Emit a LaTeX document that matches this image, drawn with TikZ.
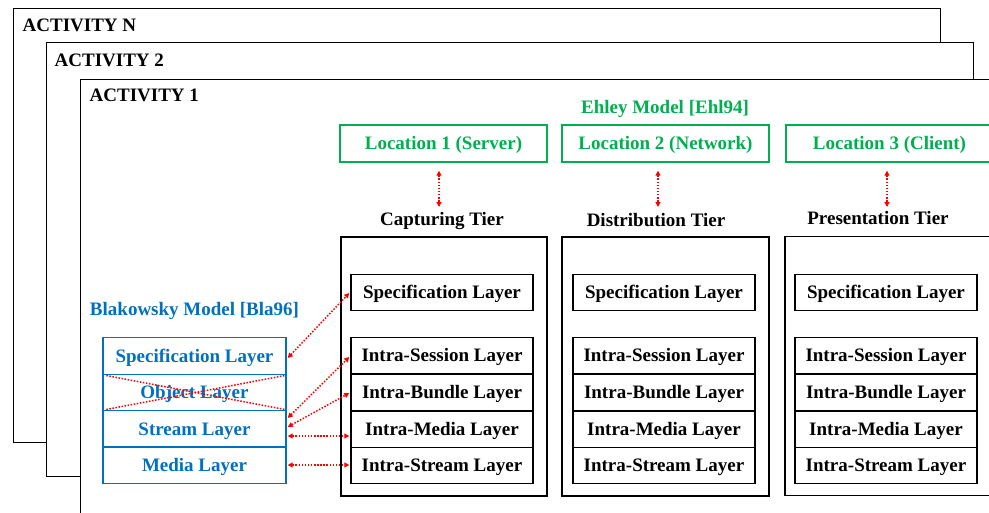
\documentclass[tikz,border=0pt]{standalone}
\usepackage{fontspec}
\setmainfont{Liberation Serif}
\usetikzlibrary{arrows.meta}
\definecolor{egreen}{RGB}{0,176,80}
\definecolor{bblue}{RGB}{0,112,192}
\definecolor{rred}{RGB}{255,0,0}
\begin{document}
\begin{tikzpicture}[x=1pt,y=-1pt,
  every node/.style={font=\fontsize{19}{21}\selectfont\bfseries, inner sep=0pt},
  actbox/.style={draw, line width=1.4pt, fill=white, anchor=north west},
  actlabel/.style={anchor=base west},
  lay/.style={draw, line width=1.4pt, minimum width=182pt, minimum height=36.5pt, text height=12.5pt, text depth=0pt},
  blay/.style={lay, draw=bblue, text=bblue, minimum width=183pt},
  tierbox/.style={draw, line width=1.4pt, minimum height=259pt},
  locbox/.style={draw=egreen, text=egreen, line width=1.4pt, minimum width=207pt, minimum height=37pt, text height=12.5pt, text depth=0pt},
  tierlabel/.style={anchor=base},
  redarr/.style={draw=rred, line width=1.5pt, dash pattern=on 1.5pt off 1.6pt, {Triangle[length=5pt,width=5pt,fill=rred]}-{Triangle[length=5pt,width=5pt,fill=rred]}},
  cross/.style={draw=rred, line width=1.5pt, dash pattern=on 1.5pt off 1.6pt}
]
\useasboundingbox (0,0) rectangle (989,512);
\clip (0,0) rectangle (989,512);
\fill[white] (0,0) rectangle (989,512);

% activity frames
\node[actbox, minimum width=927pt, minimum height=434pt] (actN) at (13,7.5) {};
\node[actlabel] (labN) at (22.5,31.5) {ACTIVITY N};
\node[actbox, minimum width=927pt, minimum height=434pt] (act2) at (46,41.5) {};
\node[actlabel] (lab2) at (54.5,66.5) {ACTIVITY 2};
\node[actbox, minimum width=940pt, minimum height=460pt] (act1) at (80,79) {};
\node[actlabel] (lab1) at (89.5,101.5) {ACTIVITY 1};

% Ehley model
\node[anchor=base, text=egreen] (ehley) at (665,113) {Ehley Model [Ehl94]};
\node[locbox] (loc1) at (443.5,143.5) {Location 1 (Server)};
\node[locbox] (loc2) at (665.5,143.5) {Location 2 (Network)};
\node[locbox] (loc3) at (889.5,143.5) {Location 3 (Client)};

% tier labels
\node[tierlabel] (t1) at (442,225) {Capturing Tier};
\node[tierlabel] (t2) at (656,226) {Distribution Tier};
\node[tierlabel] (t3) at (878,224) {Presentation Tier};

% tier boxes
\node[tierbox, minimum width=206pt] (tb1) at (444,366.5) {};
\node[tierbox, minimum width=207pt] (tb2) at (665.5,366.5) {};
\node[tierbox, minimum width=210pt] (tb3) at (890,366) {};

% layers
\foreach \n/\x in {c/442, d/664, p/886} {
  \node[lay] (\n spec) at (\x,292.5) {Specification Layer};
  \node[lay] (\n ses) at (\x,355.5) {Intra-Session Layer};
  \node[lay] (\n bun) at (\x,392.5) {Intra-Bundle Layer};
  \node[lay] (\n med) at (\x,429.5) {Intra-Media Layer};
  \node[lay] (\n str) at (\x,465.5) {Intra-Stream Layer};
}

% Blakowsky model
\node[anchor=base, text=bblue] (blak) at (194.5,315) {Blakowsky Model [Bla96]};
\node[blay] (bspec) at (194.5,356) {Specification Layer};
\node[blay] (bobj) at (194.5,392.5) {Object Layer};
\node[blay] (bstr) at (194.5,429) {Stream Layer};
\node[blay] (bmed) at (194.5,465) {Media Layer};

% cross over object layer
\draw[cross] ([shift={(4,2)}]bobj.north west) -- ([shift={(-2,-2)}]bobj.south east);
\draw[cross] ([shift={(4,-2)}]bobj.south west) -- ([shift={(-2,2)}]bobj.north east);

% vertical arrows
\draw[redarr] ([shift={(-4.5,8)}]loc1.south) -- ([shift={(-3,-18)}]t1.base);
\draw[redarr] ([shift={(-7.5,8)}]loc2.south) -- ([shift={(2,-19)}]t2.base);
\draw[redarr] ([shift={(-2.5,8)}]loc3.south) -- ([shift={(9,-17)}]t3.base);

% mapping arrows
\draw[redarr] ([shift={(1,2)}]bspec.east) -- ([shift={(-1,0.5)}]cspec.west);
\draw[redarr] ([shift={(1,-11)}]bstr.east) -- ([shift={(-1,1.5)}]cses.west);
\draw[redarr] ([shift={(1,-2)}]bstr.east) -- ([shift={(-1,0.5)}]cbun.west);
\draw[redarr] ([shift={(1,7)}]bstr.east) -- ([shift={(-1,6.5)}]cmed.west);
\draw[redarr] ([shift={(1,0)}]bmed.east) -- ([shift={(-1,-0.5)}]cstr.west);
\end{tikzpicture}
\end{document}
